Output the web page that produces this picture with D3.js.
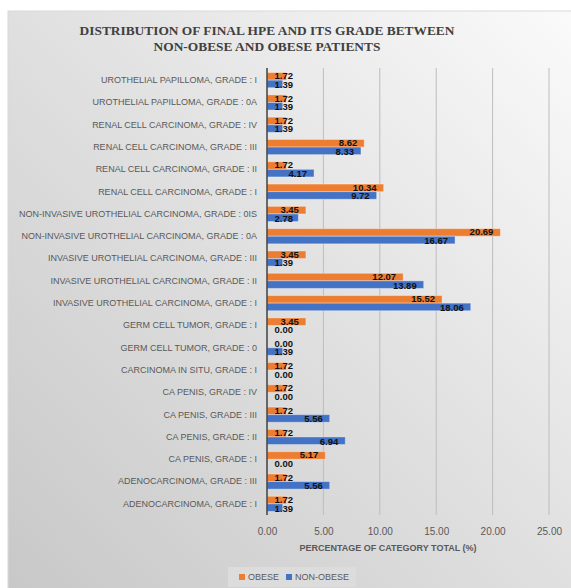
<!DOCTYPE html>
<html lang="en">
	<head>
		<meta charset="UTF-8">
		<title>Final HPE by obesity</title>
		<style>
			body{margin:0;background:#fff;}
			svg{display:block;font-family:"Liberation Sans",Arial,sans-serif;}
			.cat text{fill:#595959;font-size:9px;}
			.xaxis text{fill:#595959;font-size:10px;}
			.lbl{font-size:9.5px;font-weight:bold;fill:#111;}
		</style>
	</head>
	<body>
		<svg width="571" height="588"></svg>
		<script src="https://cdn.jsdelivr.net/npm/d3@7/dist/d3.min.js"></script>
		<script>
			// categories top -> bottom as in the chart
			var categories = [
				"UROTHELIAL PAPILLOMA, GRADE : I",
				"UROTHELIAL PAPILLOMA, GRADE : 0A",
				"RENAL CELL CARCINOMA, GRADE : IV",
				"RENAL CELL CARCINOMA, GRADE : III",
				"RENAL CELL CARCINOMA, GRADE : II",
				"RENAL CELL CARCINOMA, GRADE : I",
				"NON-INVASIVE UROTHELIAL CARCINOMA, GRADE : 0IS",
				"NON-INVASIVE UROTHELIAL CARCINOMA, GRADE : 0A",
				"INVASIVE UROTHELIAL CARCINOMA, GRADE : III",
				"INVASIVE UROTHELIAL CARCINOMA, GRADE : II",
				"INVASIVE UROTHELIAL CARCINOMA, GRADE : I",
				"GERM CELL TUMOR, GRADE : I",
				"GERM CELL TUMOR, GRADE : 0",
				"CARCINOMA IN SITU, GRADE : I",
				"CA PENIS, GRADE : IV",
				"CA PENIS, GRADE : III",
				"CA PENIS, GRADE : II",
				"CA PENIS, GRADE : I",
				"ADENOCARCINOMA, GRADE : III",
				"ADENOCARCINOMA, GRADE : I"
			];
			var obese = [1.72,1.72,1.72,8.62,1.72,10.34,3.45,20.69,3.45,12.07,15.52,3.45,0.00,1.72,1.72,1.72,1.72,5.17,1.72,1.72];
			var nonObese = [1.39,1.39,1.39,8.33,4.17,9.72,2.78,16.67,1.39,13.89,18.06,0.00,1.39,0.00,0.00,5.56,6.94,0.00,5.56,1.39];
			var seriesNames = ["OBESE","NON-OBESE"];
			var seriesColors = ["#ED7D31","#4472C4"];
			var xTicks = [0,5,10,15,20,25];

			var svg = d3.select("svg");
			var defs = svg.append("defs");
			var grad = defs.append("linearGradient").attr("id","bg")
				.attr("x1","1").attr("y1","0").attr("x2","0").attr("y2","1");
			grad.append("stop").attr("offset","0").attr("stop-color","#fbfbfb");
			grad.append("stop").attr("offset","0.45").attr("stop-color","#e2e2e2");
			grad.append("stop").attr("offset","1").attr("stop-color","#c7c7c7");

			// chart panel
			svg.append("rect").attr("x",8).attr("y",11).attr("width",580).attr("height",600)
				.attr("fill","url(#bg)").attr("stroke","#d9d9d9").attr("stroke-width",1);

			var x = d3.scaleLinear().domain([0,25]).range([267,549]);
			var y = d3.scaleBand().domain(categories).range([69,515]).paddingInner(0.32).paddingOuter(0.16);
			var ys = d3.scaleBand().domain(seriesNames).range([0,y.bandwidth()]);

			// gridlines
			svg.append("g").selectAll("line").data(xTicks.slice(1)).enter().append("line")
				.attr("x1",function(d){return x(d);}).attr("x2",function(d){return x(d);})
				.attr("y1",68).attr("y2",515)
				.attr("stroke","#bdbdbd").attr("stroke-width",1);

			// x tick labels
			var xa = svg.append("g").attr("class","xaxis")
				.attr("transform","translate(0,515)")
				.call(d3.axisBottom(x).tickValues(xTicks).tickFormat(d3.format(".2f")).tickSize(0).tickPadding(13));
			xa.select(".domain").remove();

			// category labels
			var ca = svg.append("g").attr("class","cat")
				.attr("transform","translate(267,0)")
				.call(d3.axisLeft(y).tickSize(0).tickPadding(10));
			ca.select(".domain").remove();

			var rows = categories.map(function(c,i){
				return [{cat:c,s:seriesNames[0],v:obese[i],c:seriesColors[0]},
						{cat:c,s:seriesNames[1],v:nonObese[i],c:seriesColors[1]}];
			});
			var flat = [].concat.apply([],rows);

			svg.append("g").selectAll("rect").data(flat).enter().append("rect")
				.attr("x",x(0))
				.attr("y",function(d){return y(d.cat)+ys(d.s);})
				.attr("width",function(d){return x(d.v)-x(0);})
				.attr("height",ys.bandwidth())
				.attr("fill",function(d){return d.c;})
				.attr("stroke",function(d){return d.v>0?"rgba(255,255,255,0.35)":"none";})
				.attr("stroke-width",1);

			// vertical axis line
			svg.append("line").attr("x1",x(0)).attr("x2",x(0)).attr("y1",68).attr("y2",515)
				.attr("stroke","#404040").attr("stroke-width",1.5);

			// value labels (small values get pushed clear of the axis)
			svg.append("g").selectAll("text").data(flat).enter().append("text")
				.attr("class","lbl")
				.attr("text-anchor","end")
				.attr("x",function(d){return Math.max(x(d.v)-7,x(0)+26);})
				.attr("y",function(d){return y(d.cat)+ys(d.s)+ys.bandwidth()/2+(d.s==seriesNames[0]?-0.5:0.5);})
				.attr("dy","0.36em")
				.text(function(d){return d.v.toFixed(2);});

			// title
			var title = svg.append("text").attr("text-anchor","middle")
				.attr("font-family","'Liberation Serif','Times New Roman',serif")
				.attr("font-weight","bold").attr("font-size","13.4px").attr("fill","#404040");
			title.append("tspan").attr("x",267).attr("y",35).text("DISTRIBUTION OF FINAL HPE AND ITS GRADE BETWEEN");
			title.append("tspan").attr("x",267).attr("y",51).text("NON-OBESE AND OBESE PATIENTS");

			// axis title
			svg.append("text").attr("x",388).attr("y",551).attr("text-anchor","middle")
				.attr("font-size","9px").attr("font-weight","bold").attr("fill","#595959")
				.text("PERCENTAGE OF CATEGORY TOTAL (%)");

			// legend
			var lg = svg.append("g");
			lg.append("rect").attr("x",228).attr("y",567).attr("width",128).attr("height",20).attr("fill","#dcdcdc");
			var lx = [239,286];
			var li = lg.selectAll("g").data(seriesNames).enter().append("g")
				.attr("transform",function(d,i){return "translate("+lx[i]+",577)";});
			li.append("rect").attr("x",0).attr("y",-3).attr("width",6).attr("height",6)
				.attr("fill",function(d,i){return seriesColors[i];});
			li.append("text").attr("x",9).attr("dy","0.35em").attr("font-size","9px").attr("fill","#595959")
				.text(function(d){return d;});
		</script>
	</body>
</html>
